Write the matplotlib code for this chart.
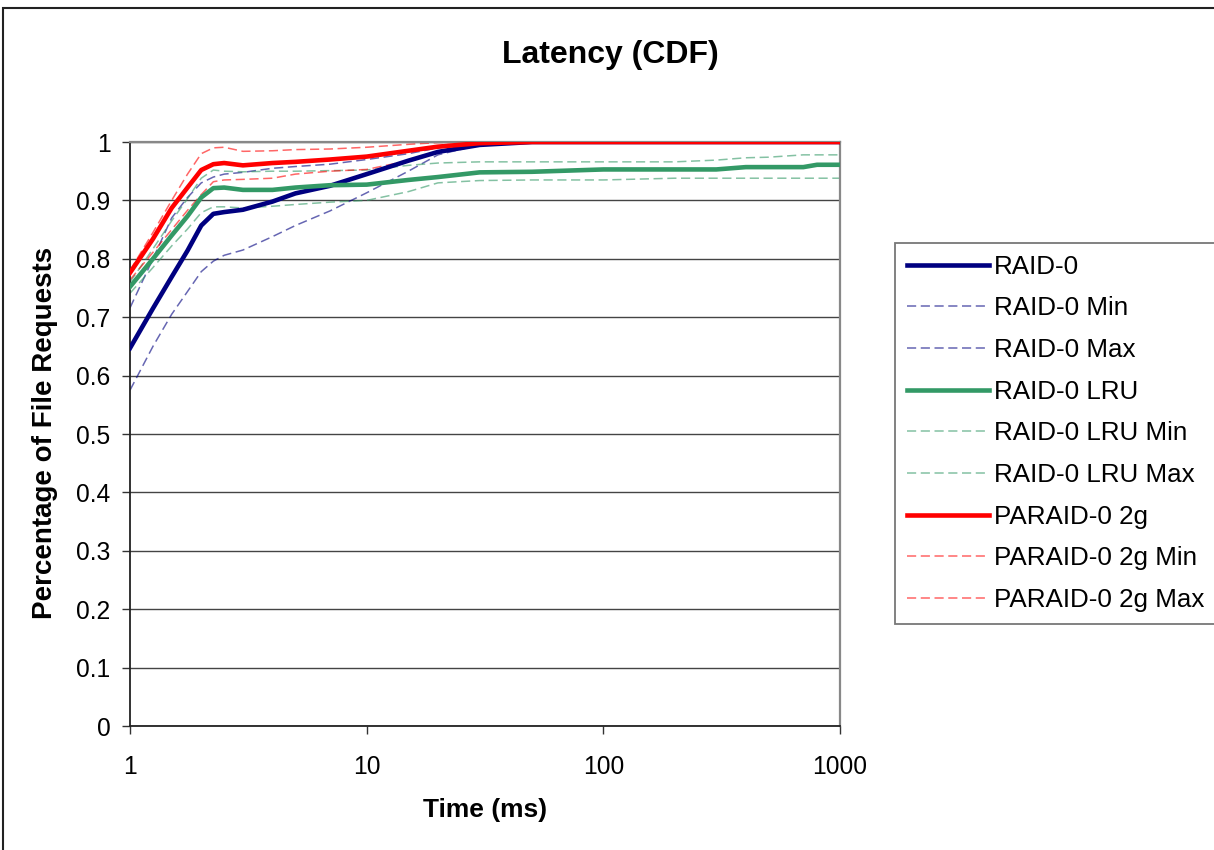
import matplotlib
matplotlib.use("Agg")
import matplotlib.pyplot as plt
from matplotlib.patches import Rectangle

plt.rcParams['font.family'] = ['Liberation Sans', 'DejaVu Sans']

# response time samples (ms)
time_ms = [1, 1.25, 1.5, 1.75, 2, 2.25, 2.5, 3, 4, 5, 7, 10, 15, 20, 30, 50,
           100, 200, 300, 400, 500, 700, 800, 1000]

raid0 = [0.647, 0.715, 0.769, 0.814, 0.857, 0.877, 0.880, 0.884, 0.898, 0.912, 0.925, 0.945,
         0.968, 0.983, 0.995, 1.0, 1.0, 1.0, 1.0, 1.0, 1.0, 1.0, 1.0, 1.0]
raid0_min = [0.575, 0.650, 0.705, 0.744, 0.778, 0.796, 0.806, 0.815, 0.838, 0.857, 0.882, 0.913,
             0.950, 0.978, 0.995, 1.0, 1.0, 1.0, 1.0, 1.0, 1.0, 1.0, 1.0, 1.0]
raid0_max = [0.716, 0.800, 0.870, 0.905, 0.930, 0.940, 0.945, 0.948, 0.955, 0.958, 0.962, 0.970,
             0.980, 0.990, 0.998, 1.0, 1.0, 1.0, 1.0, 1.0, 1.0, 1.0, 1.0, 1.0]

lru = [0.752, 0.800, 0.840, 0.873, 0.905, 0.921, 0.922, 0.918, 0.918, 0.922, 0.926, 0.927,
       0.935, 0.940, 0.948, 0.949, 0.953, 0.953, 0.953, 0.957, 0.957, 0.957, 0.961, 0.961]
lru_min = [0.741, 0.785, 0.822, 0.851, 0.879, 0.889, 0.889, 0.887, 0.890, 0.893, 0.897, 0.900,
           0.915, 0.930, 0.934, 0.935, 0.935, 0.938, 0.938, 0.938, 0.938, 0.938, 0.938, 0.938]
lru_max = [0.760, 0.817, 0.865, 0.903, 0.938, 0.952, 0.950, 0.949, 0.950, 0.950, 0.951, 0.952,
           0.960, 0.964, 0.966, 0.966, 0.966, 0.966, 0.969, 0.973, 0.974, 0.978, 0.978, 0.978]

paraid = [0.776, 0.834, 0.887, 0.922, 0.952, 0.962, 0.964, 0.960, 0.964, 0.966, 0.970, 0.975,
          0.985, 0.992, 0.998, 1.0, 1.0, 1.0, 1.0, 1.0, 1.0, 1.0, 1.0, 1.0]
paraid_min = [0.764, 0.811, 0.850, 0.883, 0.910, 0.932, 0.935, 0.936, 0.938, 0.945, 0.950, 0.953,
              0.968, 0.982, 0.996, 1.0, 1.0, 1.0, 1.0, 1.0, 1.0, 1.0, 1.0, 1.0]
paraid_max = [0.780, 0.845, 0.900, 0.945, 0.980, 0.990, 0.991, 0.984, 0.985, 0.987, 0.988, 0.991,
              0.996, 0.999, 1.0, 1.0, 1.0, 1.0, 1.0, 1.0, 1.0, 1.0, 1.0, 1.0]

series = [
    ("RAID-0", raid0, "#000080", "-"),
    ("RAID-0 Min", raid0_min, "#000080", "--"),
    ("RAID-0 Max", raid0_max, "#000080", "--"),
    ("RAID-0 LRU", lru, "#339966", "-"),
    ("RAID-0 LRU Min", lru_min, "#339966", "--"),
    ("RAID-0 LRU Max", lru_max, "#339966", "--"),
    ("PARAID-0 2g", paraid, "#FF0000", "-"),
    ("PARAID-0 2g Min", paraid_min, "#FF0000", "--"),
    ("PARAID-0 2g Max", paraid_max, "#FF0000", "--"),
]

fig = plt.figure(figsize=(12.14, 8.5), dpi=100)
ax = fig.add_axes([130 / 1214, 1 - 726 / 850, 710 / 1214, 584 / 850])

for name, vals, col, ls in series:
    if ls == "-":
        ax.plot(time_ms, vals, color=col, lw=3.3, label=name, zorder=3)
    else:
        ax.plot(time_ms, vals, color=col, lw=1.1, alpha=0.6, dashes=(6, 3), label=name, zorder=2)

ax.set_xscale("log")
ax.set_xlim(1, 1000)
ax.set_ylim(0, 1)
ax.set_xticks([1, 10, 100, 1000])
ax.set_xticklabels(["1", "10", "100", "1000"])
ax.minorticks_off()
ax.set_yticks([i / 10 for i in range(11)])
ax.set_yticklabels(["0", "0.1", "0.2", "0.3", "0.4", "0.5", "0.6", "0.7", "0.8", "0.9", "1"])
ax.tick_params(labelsize=17.7, length=6, width=1, color="#333333", pad=8)
ax.tick_params(axis="x", pad=15)
ax.grid(axis="y", color="#444444", lw=1)
ax.set_axisbelow(True)

for s in ["left", "bottom"]:
    ax.spines[s].set_color("#222222")
    ax.spines[s].set_linewidth(1.3)
for s in ["top", "right"]:
    ax.spines[s].set_color("#888888")
    ax.spines[s].set_linewidth(1.6)

fig.text(610 / 1214, 1 - 55 / 850, "Latency (CDF)", ha="center", va="center",
         fontsize=23, fontweight="bold")
fig.text(485 / 1214, 1 - 810 / 850, "Time (ms)", ha="center", va="center",
         fontsize=19, fontweight="bold")
fig.text(45 / 1214, 1 - 433 / 850, "Percentage of File Requests", ha="center", va="center",
         rotation=90, fontsize=20, fontweight="bold")

leg = fig.legend(loc="upper left", bbox_to_anchor=(895 / 1214, 1 - 243 / 850),
                 fontsize=18.7, handlelength=3.15, handletextpad=0.2, labelspacing=0.68,
                 borderpad=0.45, borderaxespad=0, fancybox=False, framealpha=1)
leg.get_frame().set_edgecolor("#777777")
leg.get_frame().set_linewidth(1.3)

fig.patches.append(Rectangle((3 / 1214, -0.01), 1.0, 1 - 8 / 850 + 0.01, transform=fig.transFigure,
                             fill=False, edgecolor="#222222", lw=1.5))

fig.savefig("out.png", dpi=100)
